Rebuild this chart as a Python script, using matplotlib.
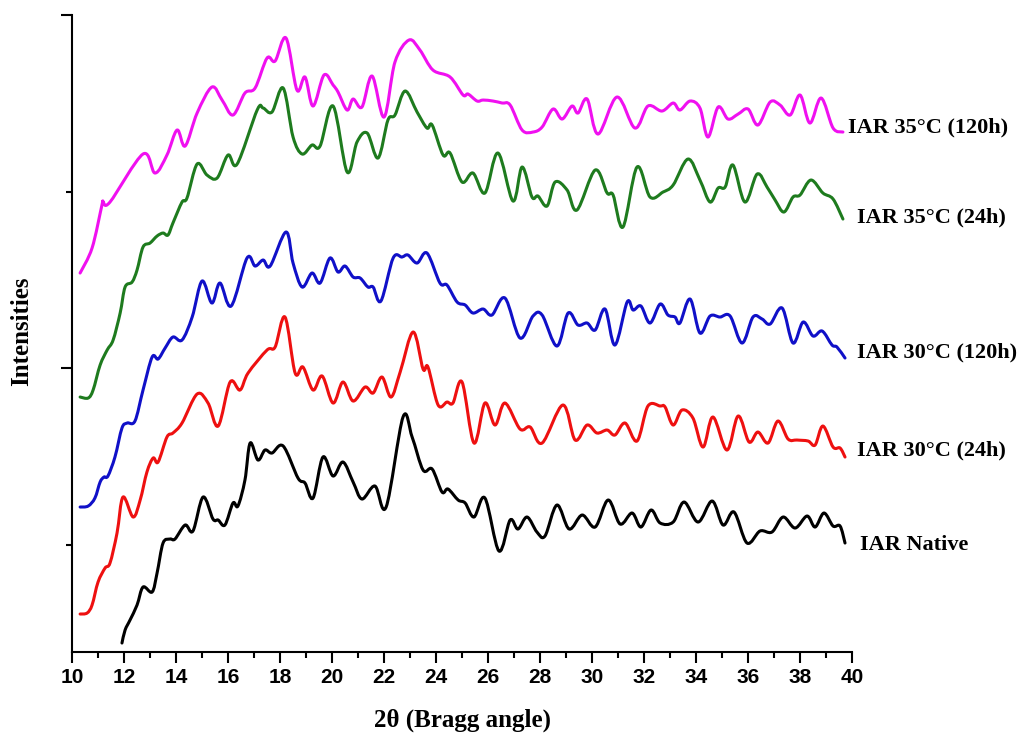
import numpy as np
import matplotlib.pyplot as plt
from matplotlib.path import Path
from matplotlib.patches import PathPatch
from matplotlib.ticker import MultipleLocator, FixedLocator

# XRD patterns (2theta in degrees, intensity in arbitrary offset units)
x_120h_35 = [10.31, 10.77, 11.15, 11.19, 11.46, 12.73, 13.19, 13.65, 14.04, 14.35, 14.81, 15.38, 15.77,
             16.19, 16.65, 17.04, 17.50, 17.81, 18.23, 18.65, 18.96, 19.27, 19.69, 20.04, 20.23, 20.58,
             20.81, 21.15, 21.54, 22.00, 22.42, 22.96, 23.38, 23.88, 24.54, 25.04, 25.23, 25.58, 25.81,
             26.19, 26.54, 26.85, 27.31, 27.73, 28.08, 28.50, 28.85, 29.23, 29.46, 29.81, 30.23, 30.96,
             31.65, 32.15, 32.69, 33.12, 33.38, 33.77, 34.15, 34.46, 34.85, 35.23, 35.62, 36.00, 36.38,
             36.85, 37.23, 37.62, 38.00, 38.38, 38.81, 39.27, 39.65]
y_120h_35 = [379, 404, 447, 450, 450, 498, 479, 497, 522, 506, 539, 565, 552,
             537, 559, 564, 594, 591, 614, 562, 575, 546, 577, 567, 560, 542,
             553, 545, 576, 535, 590, 612, 602, 582, 575, 557, 558, 551, 552,
             551, 549, 547, 522, 520, 525, 543, 533, 546, 539, 553, 518, 555,
             524, 546, 541, 549, 542, 551, 544, 515, 545, 533, 538, 543, 527,
             550, 547, 537, 557, 529, 554, 524, 520]

x_24h_35 = [10.31, 10.62, 10.81, 11.08, 11.35, 11.58, 11.85, 12.04, 12.31, 12.50, 12.73, 13.00, 13.27,
            13.50, 13.69, 13.88, 14.23, 14.42, 14.81, 15.19, 15.58, 16.00, 16.35, 17.12, 17.35, 17.69,
            18.12, 18.50, 18.85, 19.23, 19.54, 20.04, 20.58, 20.96, 21.35, 21.77, 22.15, 22.42, 22.81,
            23.27, 23.65, 23.85, 24.27, 24.54, 25.00, 25.42, 25.88, 26.38, 26.96, 27.31, 27.69, 27.92,
            28.27, 28.58, 29.04, 29.42, 30.12, 30.58, 30.81, 31.19, 31.73, 32.23, 32.73, 33.12, 33.69,
            34.15, 34.54, 34.85, 35.12, 35.42, 35.88, 36.35, 36.73, 37.04, 37.38, 37.73, 38.00, 38.42,
            38.88, 39.27, 39.65]
y_24h_35 = [255, 254, 262, 287, 302, 312, 339, 365, 370, 382, 405, 409, 416,
            419, 417, 429, 450, 454, 488, 477, 474, 497, 488, 542, 544, 540,
            564, 515, 498, 507, 506, 546, 480, 510, 519, 494, 532, 537, 561,
            540, 524, 527, 497, 499, 470, 479, 459, 499, 451, 485, 455, 456,
            446, 470, 462, 442, 482, 459, 457, 425, 485, 455, 460, 467, 493,
            472, 450, 464, 465, 487, 450, 478, 465, 452, 440, 455, 457, 472,
            459, 453, 433]

x_120h_30 = [10.31, 10.62, 10.88, 11.08, 11.23, 11.38, 11.65, 11.92, 12.12, 12.42, 12.73, 13.08, 13.31,
             13.58, 13.88, 14.23, 14.62, 15.00, 15.38, 15.69, 16.12, 16.73, 17.04, 17.35, 17.62, 18.23,
             18.50, 18.85, 19.23, 19.54, 19.92, 20.23, 20.50, 20.81, 21.08, 21.38, 21.58, 21.88, 22.35,
             22.69, 22.92, 23.27, 23.65, 24.15, 24.42, 24.81, 25.12, 25.42, 25.81, 26.15, 26.65, 27.23,
             27.73, 28.08, 28.65, 29.08, 29.46, 29.81, 30.12, 30.50, 30.88, 31.35, 31.58, 31.88, 32.23,
             32.62, 32.92, 33.19, 33.38, 33.77, 34.15, 34.54, 34.92, 35.31, 35.77, 36.19, 36.54, 36.85,
             37.31, 37.73, 38.12, 38.50, 38.85, 39.23, 39.42, 39.73]
y_120h_30 = [145, 146, 154, 170, 175, 176, 195, 224, 229, 231, 262, 295, 293,
             304, 315, 312, 335, 371, 349, 369, 346, 394, 386, 392, 386, 420,
             389, 365, 379, 369, 394, 380, 386, 375, 374, 365, 365, 351, 394,
             395, 397, 389, 399, 369, 367, 350, 347, 339, 343, 337, 354, 314,
             336, 337, 306, 339, 327, 329, 322, 343, 307, 350, 342, 346, 329,
             348, 337, 335, 329, 353, 319, 336, 335, 336, 309, 335, 333, 328,
             344, 309, 330, 316, 321, 307, 305, 294]

x_24h_30 = [10.31, 10.58, 10.77, 11.00, 11.27, 11.46, 11.73, 11.96, 12.35, 12.62, 12.88, 13.12, 13.31,
            13.65, 13.88, 14.23, 14.81, 15.23, 15.62, 16.08, 16.46, 16.77, 17.50, 17.81, 18.19, 18.58,
            18.88, 19.27, 19.62, 20.04, 20.42, 20.81, 21.27, 21.58, 21.92, 22.27, 22.62, 23.12, 23.50,
            23.69, 24.08, 24.42, 24.65, 25.00, 25.46, 25.88, 26.27, 26.65, 27.23, 27.62, 28.08, 28.88,
            29.35, 29.81, 30.19, 30.58, 30.88, 31.27, 31.73, 32.15, 32.62, 32.81, 33.12, 33.46, 33.88,
            34.27, 34.65, 35.19, 35.62, 36.04, 36.38, 36.77, 37.15, 37.54, 37.88, 38.31, 38.58, 38.88,
            39.27, 39.54, 39.73]
y_24h_30 = [38, 39, 47, 70, 84, 89, 119, 155, 135, 152, 180, 194, 190,
            215, 219, 229, 258, 249, 226, 270, 262, 279, 302, 305, 335, 279,
            285, 262, 276, 249, 270, 251, 265, 259, 275, 255, 280, 320, 283,
            285, 247, 250, 249, 270, 209, 249, 227, 249, 223, 225, 209, 247,
            212, 227, 219, 222, 217, 229, 211, 246, 246, 245, 227, 242, 234,
            205, 235, 202, 236, 210, 220, 209, 231, 213, 212, 211, 207, 226,
            205, 204, 195]

x_native = [11.92, 12.04, 12.23, 12.50, 12.73, 13.08, 13.27, 13.50, 13.77, 13.96, 14.35, 14.65, 15.04,
            15.42, 15.62, 15.88, 16.19, 16.38, 16.65, 16.85, 17.15, 17.42, 17.69, 18.12, 18.69, 18.96,
            19.27, 19.65, 20.04, 20.42, 20.81, 21.15, 21.65, 22.08, 22.73, 23.08, 23.50, 23.85, 24.23,
            24.46, 24.85, 25.12, 25.46, 25.88, 26.42, 26.85, 27.15, 27.50, 27.88, 28.19, 28.65, 29.12,
            29.62, 30.12, 30.62, 31.08, 31.54, 31.88, 32.27, 32.62, 33.12, 33.54, 34.08, 34.62, 35.04,
            35.46, 35.96, 36.46, 36.92, 37.35, 37.81, 38.27, 38.58, 38.92, 39.27, 39.54, 39.73]
y_native = [9, 22, 32, 47, 65, 60, 79, 109, 113, 113, 127, 121, 155,
            133, 132, 127, 149, 146, 172, 209, 192, 202, 199, 206, 174, 169,
            154, 195, 176, 190, 170, 153, 166, 145, 235, 215, 182, 183, 160,
            163, 152, 149, 135, 154, 101, 132, 123, 135, 120, 116, 147, 123,
            137, 125, 152, 128, 139, 125, 142, 129, 130, 150, 130, 151, 127,
            140, 109, 121, 120, 135, 124, 136, 125, 139, 126, 126, 109]

labels = ['IAR 35°C (120h)', 'IAR 35°C (24h)', 'IAR 30°C (120h)', 'IAR 30°C (24h)', 'IAR Native']
colors = ['#f010f0', '#1e7b1e', '#1010c8', '#ee1010', '#000000']
label_x = [39.85, 40.19, 40.19, 40.19, 40.31]
label_y = [525, 435, 300, 202, 107]

series = [(x_120h_35, y_120h_35), (x_24h_35, y_24h_35), (x_120h_30, y_120h_30),
          (x_24h_30, y_24h_30), (x_native, y_native)]


def smooth_path(xs, ys):
    # catmull-rom through the read points, drawn as cubic bezier segments
    p = np.column_stack([xs, ys]).astype(float)
    pp = np.vstack([p[0], p, p[-1]])
    verts = [p[0]]
    codes = [Path.MOVETO]
    for i in range(1, len(pp) - 2):
        c1 = pp[i] + (pp[i + 1] - pp[i - 1]) / 6.0
        c2 = pp[i + 1] - (pp[i + 2] - pp[i]) / 6.0
        verts += [c1, c2, pp[i + 1]]
        codes += [Path.CURVE4] * 3
    return Path(verts, codes)


fig = plt.figure(figsize=(10.22, 7.37), dpi=100)
ax = fig.add_axes([0.0705, 0.1153, 0.7632, 0.8643])

for (xs, ys), c in zip(series, colors):
    ax.add_patch(PathPatch(smooth_path(xs, ys), facecolor='none', edgecolor=c, lw=2.2,
                           joinstyle='round', capstyle='round'))

for lab, lx, ly in zip(labels, label_x, label_y):
    ax.text(lx, ly, lab, fontsize=16, fontweight='bold', family='Liberation Serif',
            va='center', ha='left', clip_on=False)

ax.set_xlim(10, 40)
ax.set_ylim(0, 637)
ax.xaxis.set_major_locator(MultipleLocator(2))
ax.xaxis.set_minor_locator(MultipleLocator(1))
ax.yaxis.set_major_locator(FixedLocator([284, 637]))
ax.yaxis.set_minor_locator(FixedLocator([107.5, 460.5]))
ax.set_yticklabels([])

for s in ['top', 'right']:
    ax.spines[s].set_visible(False)
for s in ['left', 'bottom']:
    ax.spines[s].set_linewidth(1.5)
ax.tick_params(axis='both', which='major', length=8, width=1.5, direction='out')
ax.tick_params(axis='both', which='minor', length=4, width=1.5, direction='out')
for t in ax.get_xticklabels():
    t.set_fontfamily('Liberation Sans')
    t.set_fontweight('bold')
    t.set_fontsize(15)

ax.set_xlabel('2θ (Bragg angle)', fontsize=18, fontweight='bold', family='Liberation Serif')
ax.xaxis.set_label_coords(0.5, -0.088)
ax.set_ylabel('Intensities', fontsize=18, fontweight='bold', family='Liberation Serif')
ax.yaxis.set_label_coords(-0.05, 0.503)

fig.savefig('out.png', dpi=100)
